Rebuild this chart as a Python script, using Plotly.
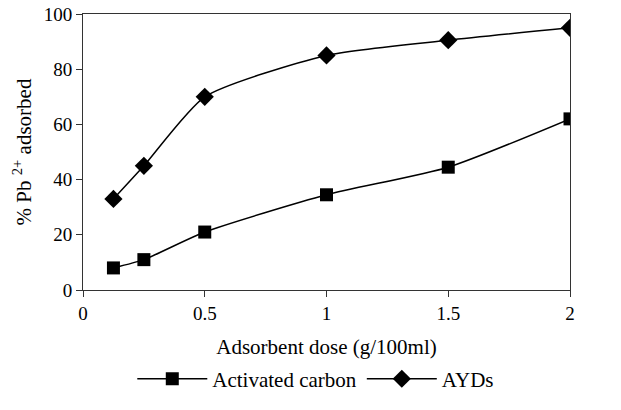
import plotly.graph_objects as go

dose = [0.125, 0.25, 0.5, 1.0, 1.5, 2.0]
activated_carbon = [8, 11, 21, 34.5, 44.5, 62]
ayds = [33, 45, 70, 85, 90.5, 95]
x_ticks = [0, 0.5, 1, 1.5, 2]
x_tick_labels = ["0", "0.5", "1", "1.5", "2"]
y_ticks = [0, 20, 40, 60, 80, 100]

FONT = "Liberation Serif"

fig = go.Figure()
fig.add_trace(go.Scatter(
    x=dose, y=activated_carbon, name="Activated carbon", mode="lines+markers",
    line=dict(color="black", width=1.5, shape="spline", smoothing=0.6),
    marker=dict(symbol="square", size=13, color="black"),
))
fig.add_trace(go.Scatter(
    x=dose, y=ayds, name="AYDs", mode="lines+markers",
    line=dict(color="black", width=1.5, shape="spline", smoothing=0.6),
    marker=dict(symbol="diamond", size=14, color="black"),
))

fig.update_layout(
    width=621, height=410,
    margin=dict(l=83, r=51, t=14, b=119),
    paper_bgcolor="white", plot_bgcolor="white",
    font=dict(family=FONT, size=19, color="black"),
    showlegend=True,
    legend=dict(orientation="h", x=0.478, xanchor="center", y=-0.318, yanchor="middle",
                font=dict(family=FONT, size=21), itemwidth=70, tracegroupgap=0),
    xaxis=dict(range=[0, 2], tickvals=x_ticks, ticktext=x_tick_labels, automargin=False,
               showline=True, linecolor="#333", linewidth=1, mirror=True,
               ticks="outside", ticklen=6, tickcolor="#333", showgrid=False, zeroline=False,
               title=dict(text="Adsorbent dose (g/100ml)", font=dict(family=FONT, size=21), standoff=16)),
    yaxis=dict(range=[0, 100], tickvals=y_ticks, automargin=False,
               showline=True, linecolor="#333", linewidth=1, mirror=True,
               ticks="outside", ticklen=6, tickcolor="#333", showgrid=False, zeroline=False,
               title=dict(text="% Pb <sup>2+</sup> adsorbed", font=dict(family=FONT, size=21), standoff=6)),
)

fig.write_html("out.html")
